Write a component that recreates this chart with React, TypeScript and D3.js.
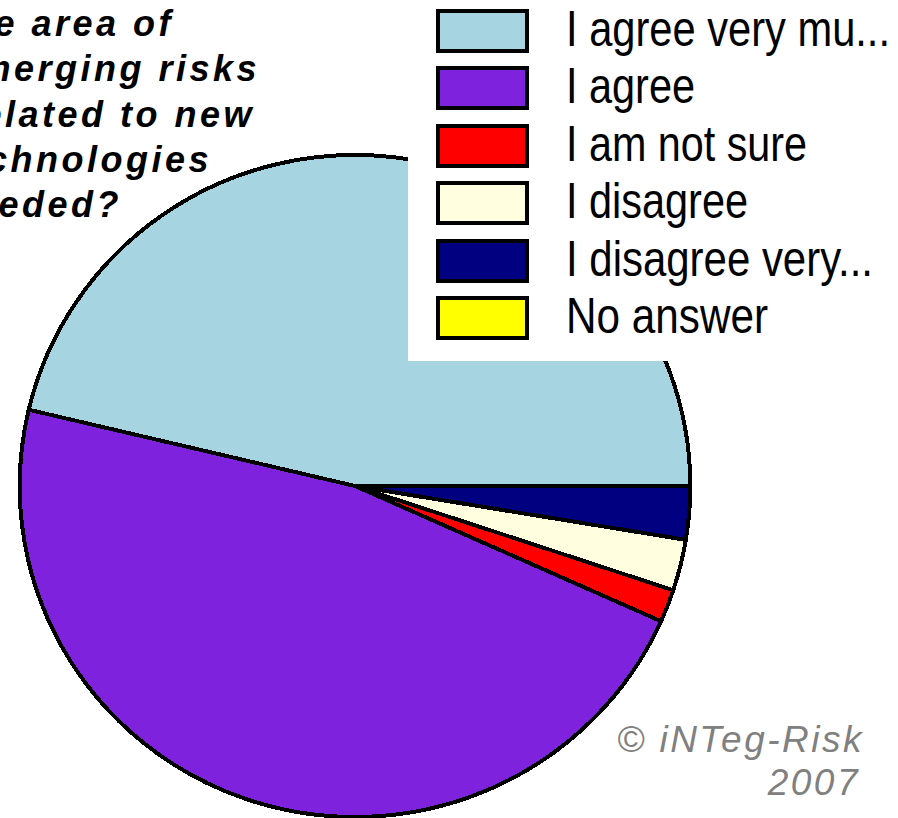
import React from "react";
import * as d3 from "d3";

const categories = [
  "I agree very mu...",
  "I agree",
  "I am not sure",
  "I disagree",
  "I disagree very...",
  "No answer",
];
const values = [46.3, 47.0, 1.6, 2.5, 2.6, 0];
const colors = ["#A6D4E1", "#7F22DD", "#FF0000", "#FFFFDF", "#000080", "#FFFF00"];
const titleLines = [
  "Is research in the area of",
  "emerging risks",
  "related to new",
  "technologies",
  "needed?",
];
const copyrightLines = ["© iNTeg-Risk", "2007"];

// layout
const W = 898;
const H = 818;
const cx = 355;
const cy = 486;
const R = 331;
const xScale = 1.013;

const titleRight = [171, 257, 252, 209, 119];
const titleBase = [36, 81, 127, 172, 217];
const legendTextLen = [324, 129, 241, 182, 307, 202];

export default function App() {
  React.useEffect(() => {
    document.body.style.margin = "0";
  }, []);

  const pie = d3
    .pie<number>()
    .sort(null)
    .value((d) => d)
    .startAngle(Math.PI / 2)
    .endAngle(Math.PI / 2 - 2 * Math.PI);
  const arcs = pie(values);
  const arc = d3.arc<d3.PieArcDatum<number>>().innerRadius(0).outerRadius(R);

  const legendY = d3.scaleLinear().domain([0, 1]).range([11, 11 + 57.4]);

  return (
    <svg
      width={W}
      height={H}
      style={{ position: "absolute", left: 0, top: 0, background: "#fff" }}
    >
      <rect x={0} y={0} width={W} height={H} fill="#fff" />
      <g transform={`translate(${cx},${cy}) scale(${xScale},1)`}>
        {arcs.map((a, i) =>
          a.value > 0 ? (
            <path
              key={i}
              d={arc(a) || ""}
              fill={colors[i]}
              stroke="#000"
              strokeWidth={4}
              strokeLinejoin="miter"
              vectorEffect="non-scaling-stroke"
              shapeRendering="crispEdges"
            />
          ) : null
        )}
      </g>

      {/* title */}
      <g
        fontFamily="'Liberation Sans', Arial, sans-serif"
        fontWeight="bold"
        fontStyle="italic"
        fontSize={36}
        letterSpacing="3.5px"
        fill="#000"
      >
        {titleLines.map((t, i) => (
          <text key={i} x={titleRight[i] + 3} y={titleBase[i]} textAnchor="end">
            {t}
          </text>
        ))}
      </g>

      {/* legend */}
      <rect x={408} y={0} width={W - 408} height={361} fill="#fff" />
      {categories.map((c, i) => (
        <g key={c}>
          <rect
            x={438}
            y={legendY(i)}
            width={89}
            height={40}
            fill={colors[i]}
            stroke="#000"
            strokeWidth={4}
            shapeRendering="crispEdges"
          />
          <text
            x={566}
            y={legendY(i) + 35}
            fontFamily="'Liberation Sans', Arial, sans-serif"
            fontSize={50}
            textLength={legendTextLen[i]}
            lengthAdjust="spacingAndGlyphs"
            fill="#000"
          >
            {c}
          </text>
        </g>
      ))}

      {/* copyright */}
      <g
        fontFamily="'Liberation Sans', Arial, sans-serif"
        fontStyle="italic"
        fontSize={37}
        fill="#808080"
        letterSpacing="2.5px"
      >
        <text x={864} y={752} textAnchor="end">
          {copyrightLines[0]}
        </text>
        <text x={860} y={795} textAnchor="end">
          {copyrightLines[1]}
        </text>
      </g>
    </svg>
  );
}
